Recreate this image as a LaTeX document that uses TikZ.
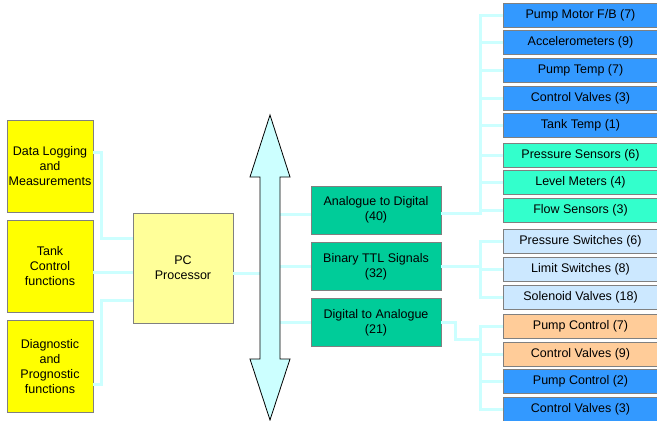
\documentclass[tikz,border=0pt]{standalone}
\usepackage{fontspec}
\setmainfont{Liberation Sans}
\definecolor{linkc}{HTML}{CCFFFF}
\definecolor{busc}{HTML}{CCFFFF}
\definecolor{edgec}{HTML}{808080}
\definecolor{yellowc}{HTML}{FFFF00}
\definecolor{pcc}{HTML}{FFFF99}
\definecolor{greenc}{HTML}{00CC99}
\definecolor{bluec}{HTML}{3399FF}
\definecolor{aquac}{HTML}{33FFCC}
\definecolor{palec}{HTML}{CCE8FF}
\definecolor{orangec}{HTML}{FFCC99}
\tikzset{
  box/.style={draw=edgec, line width=.8pt, inner sep=0pt, align=center,
    font=\fontsize{12.5}{15}\selectfont},
  funcbox/.style={box, fill=yellowc, minimum width=86pt, minimum height=92pt},
  convbox/.style={box, fill=greenc, minimum width=130pt, minimum height=48pt},
  sensbox/.style={box, minimum width=155pt, minimum height=24pt},
  link/.style={draw=linkc, line width=3pt}
}
\begin{document}
\begin{tikzpicture}[x=1pt,y=-1pt]
			\useasboundingbox (0,0) rectangle (657,421);
			
			% functions and processor
			\node[funcbox] (dlog) at (50,166) {Data Logging\\and\\Measurements};
			\node[funcbox] (tank) at (50,266.5) {Tank\\Control\\functions};
			\node[funcbox] (diag) at (50,366.5) {Diagnostic\\and\\Prognostic\\functions};
			\node[box, fill=pcc, minimum width=100pt, minimum height=110pt] (pc) at (183,268) {PC\\Processor};
			
			% converters
			\node[convbox] (a2d) at (376,210) {Analogue to Digital\\(40)};
			\node[convbox] (ttl) at (376,266.5) {Binary TTL Signals\\(32)};
			\node[convbox] (d2a) at (376,322.5) {Digital to Analogue\\(21)};
			
			% sensors and actuators
			\node[sensbox, fill=bluec] (pmfb) at (580.5,15) {Pump Motor F/B (7)};
			\node[sensbox, fill=bluec] (accel) at (580.5,42.5) {Accelerometers (9)};
			\node[sensbox, fill=bluec] (ptemp) at (580.5,70.5) {Pump Temp (7)};
			\node[sensbox, fill=bluec] (cvalve) at (580.5,98) {Control Valves (3)};
			\node[sensbox, fill=bluec] (ttemp) at (580.5,125.5) {Tank Temp (1)};
			\node[sensbox, fill=aquac] (psens) at (580.5,155) {Pressure Sensors (6)};
			\node[sensbox, fill=aquac] (lmeter) at (580.5,182.5) {Level Meters (4)};
			\node[sensbox, fill=aquac] (fsens) at (580.5,210.5) {Flow Sensors (3)};
			\node[sensbox, fill=palec] (pswitch) at (580.5,241) {Pressure Switches (6)};
			\node[sensbox, fill=palec] (lswitch) at (580.5,269) {Limit Switches (8)};
			\node[sensbox, fill=palec] (svalve) at (580.5,297) {Solenoid Valves (18)};
			\node[sensbox, fill=orangec] (pctrlA) at (580.5,326) {Pump Control (7)};
			\node[sensbox, fill=orangec] (cvalveA) at (580.5,354) {Control Valves (9)};
			\node[sensbox, fill=bluec] (pctrlB) at (580.5,381.5) {Pump Control (2)};
			\node[sensbox, fill=bluec] (cvalveB) at (580.5,409) {Control Valves (3)};
			
			\coordinate (jogL) at (101,0);
			\coordinate (busL) at (260,0); \coordinate (busR) at (280,0);
			\coordinate (trunk) at (480,0);
			\coordinate (jogD) at (455,339);
			
			% left side links
			\draw[link] ([yshift=14pt]dlog.east) -| ([yshift=30pt]pc.west -| jogL) -- ([yshift=30pt]pc.west);
			\draw[link] ([yshift=-6pt]tank.east) -- ([yshift=-6pt]tank.east -| pc.west);
			\draw[link] ([yshift=-18pt]diag.east) -| ([yshift=-32pt]pc.west -| jogL) -- ([yshift=-32pt]pc.west);
			\draw[link] ([yshift=-5pt]pc.east) -- ([yshift=-5pt]pc.east -| busL);
			
			% bus links
			\draw[link] ([yshift=-4pt]a2d.west) -- ([yshift=-4pt]a2d.west -| busR);
			\draw[link] (ttl.west) -- (ttl.west -| busR);
			\draw[link] (d2a.west) -- (d2a.west -| busR);
			
			% right side links
			\draw[link] ([yshift=-3pt]a2d.east) -- ([yshift=-3pt]a2d.east -| trunk) |- (pmfb.west);
			\foreach \n in {accel,ptemp,cvalve,ttemp,psens,lmeter,fsens}
				\draw[link] (\n.west) -- (\n.west -| trunk);
			\draw[link] (ttl.east) -- (ttl.east -| trunk);
			\draw[link] (pswitch.west) -- (pswitch.west -| trunk) -- (svalve.west -| trunk) -- (svalve.west);
			\draw[link] (lswitch.west) -- (lswitch.west -| trunk);
			\draw[link] (d2a.east) -| (jogD) -- (jogD -| trunk);
			\draw[link] (pctrlA.west) -- (pctrlA.west -| trunk) -- (cvalveB.west -| trunk) -- (cvalveB.west);
			\draw[link] (cvalveA.west) -- (cvalveA.west -| trunk);
			\draw[link] (pctrlB.west) -- (pctrlB.west -| trunk);
			
			% bus arrow
			\draw[fill=busc, line width=.8pt] (270,115) -- (290,177) -- (280,177) -- (280,359) -- (290,359) -- (270,420)
				-- (250,359) -- (260,359) -- (260,177) -- (250,177) -- cycle;
\end{tikzpicture}
\end{document}
